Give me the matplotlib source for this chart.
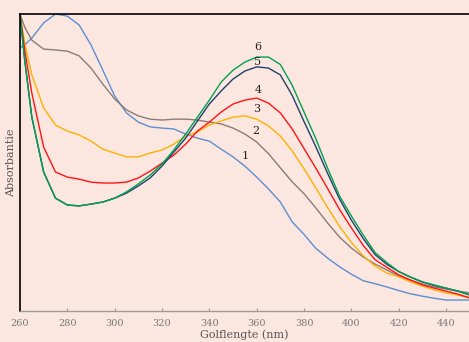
import matplotlib
matplotlib.use("Agg")
import matplotlib.pyplot as plt

# wavelengths (nm) and absorbance readings for the six spectra
wavelength = [260, 262, 265, 270, 275, 280, 285, 290, 295, 300, 305, 310, 315, 320,
              325, 330, 335, 340, 345, 350, 355, 360, 365, 370, 375, 380, 385, 390,
              395, 400, 405, 410, 415, 420, 425, 430, 435, 440, 445, 450]

spec1 = [0.886, 0.896, 0.919, 0.970, 1.000, 0.993, 0.963, 0.896, 0.811, 0.724, 0.667, 0.636,
         0.620, 0.616, 0.613, 0.596, 0.582, 0.572, 0.545, 0.519, 0.488, 0.451, 0.411, 0.367,
         0.300, 0.258, 0.211, 0.178, 0.149, 0.124, 0.102, 0.092, 0.081, 0.069, 0.058, 0.050,
         0.043, 0.037, 0.037, 0.037]
spec2 = [1.000, 0.956, 0.912, 0.882, 0.879, 0.875, 0.859, 0.818, 0.764, 0.714, 0.677, 0.657,
         0.646, 0.643, 0.646, 0.646, 0.643, 0.636, 0.630, 0.616, 0.596, 0.569, 0.530, 0.482,
         0.435, 0.395, 0.347, 0.296, 0.249, 0.212, 0.182, 0.158, 0.138, 0.118, 0.104, 0.091,
         0.081, 0.074, 0.067, 0.061]
spec3 = [1.000, 0.902, 0.795, 0.684, 0.626, 0.606, 0.593, 0.572, 0.545, 0.532, 0.519, 0.519,
         0.532, 0.542, 0.562, 0.589, 0.603, 0.626, 0.640, 0.653, 0.657, 0.646, 0.623, 0.589,
         0.539, 0.479, 0.414, 0.348, 0.285, 0.231, 0.186, 0.151, 0.128, 0.115, 0.098, 0.084,
         0.071, 0.061, 0.054, 0.044]
spec4 = [1.000, 0.879, 0.734, 0.552, 0.468, 0.451, 0.444, 0.434, 0.431, 0.431, 0.434, 0.448,
         0.471, 0.498, 0.525, 0.562, 0.606, 0.636, 0.670, 0.697, 0.710, 0.717, 0.700, 0.667,
         0.613, 0.547, 0.481, 0.412, 0.342, 0.280, 0.221, 0.173, 0.147, 0.122, 0.104, 0.088,
         0.077, 0.067, 0.057, 0.044]
spec5 = [1.000, 0.845, 0.653, 0.468, 0.380, 0.357, 0.354, 0.360, 0.367, 0.380, 0.397, 0.421,
         0.448, 0.488, 0.535, 0.582, 0.640, 0.697, 0.741, 0.781, 0.808, 0.822, 0.818, 0.795,
         0.726, 0.638, 0.553, 0.463, 0.377, 0.306, 0.244, 0.190, 0.157, 0.133, 0.114, 0.098,
         0.086, 0.077, 0.067, 0.054]
spec6 = [1.000, 0.845, 0.653, 0.468, 0.380, 0.357, 0.354, 0.360, 0.367, 0.380, 0.401, 0.428,
         0.458, 0.495, 0.542, 0.596, 0.653, 0.710, 0.771, 0.811, 0.838, 0.855, 0.855, 0.830,
         0.760, 0.670, 0.580, 0.480, 0.387, 0.320, 0.256, 0.197, 0.163, 0.133, 0.114, 0.098,
         0.088, 0.077, 0.067, 0.054]

labels = ["1", "2", "3", "4", "5", "6"]
label_x = [355, 359.6, 360, 360.5, 360.5, 360.5]
label_y = [0.522, 0.606, 0.680, 0.744, 0.838, 0.889]
xticks = [260, 280, 300, 320, 340, 360, 380, 400, 420, 440]

colors = ["#5b8fd2", "#8a7c78", "#ffb000", "#ff1414", "#213f6c", "#00a050"]
bg = "#fce7e0"

fig = plt.figure(figsize=(4.69, 3.42), dpi=100, facecolor=bg)
ax = fig.add_axes([0.0426, 0.0906, 0.9574, 0.8684], facecolor=bg)

# draw the highest-numbered spectra last so they sit on top
for spec, c in zip([spec1, spec2, spec3, spec4, spec5, spec6], colors):
    ax.plot(wavelength, spec, color=c, lw=1.0)

for t, x, y in zip(labels, label_x, label_y):
    ax.text(x, y, t, fontsize=8, family="DejaVu Serif", color="#222222",
            ha="center", va="center")

ax.set_xlim(260, 449.7)
ax.set_ylim(0, 1.0)
ax.set_xticks(xticks)
ax.set_yticks([])
ax.tick_params(axis="x", direction="in", length=2, color="#999999",
               labelcolor="#777777", labelsize=7, pad=6)
for lab in ax.get_xticklabels():
    lab.set_family("DejaVu Serif")

ax.spines["right"].set_visible(False)
ax.spines["left"].set_color("black")
ax.spines["top"].set_color("black")
ax.spines["left"].set_linewidth(1.2)
ax.spines["top"].set_linewidth(1.2)
ax.spines["bottom"].set_color("#999999")
ax.spines["bottom"].set_linewidth(1.0)

ax.set_xlabel("Golflengte (nm)", family="DejaVu Serif", fontsize=8,
              color="#555555", labelpad=1)
ax.set_ylabel("Absorbantie", family="DejaVu Serif", fontsize=8,
              color="#555555", labelpad=3)

fig.savefig("out.png", dpi=100, facecolor=bg)
